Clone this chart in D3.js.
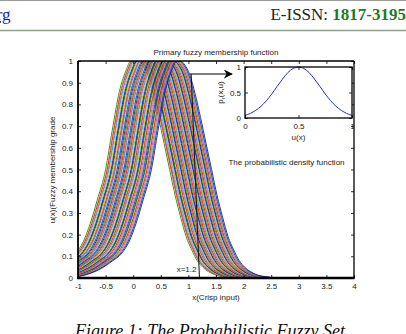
<!DOCTYPE html>
<html lang="en">
<head>
<meta charset="UTF-8">
<title>The Probabilistic Fuzzy Set</title>
<script src="https://cdn.jsdelivr.net/npm/d3@7/dist/d3.min.js"></script>
<style>
    body { margin: 0; background: #fff; }
    svg { display: block; }
    .lbl { font-family: "Liberation Sans", Arial, sans-serif; font-size: 8px; fill: #222; }
    .axis text { font-family: "Liberation Sans", Arial, sans-serif; font-size: 8px; fill: #222; }
    .axis line { stroke: #000; stroke-width: 0.8px; }
    .axis path { display: none; }
    .serif { font-family: "Liberation Serif", "Times New Roman", serif; }
</style>
</head>
<body>
<script>
    // tick values of the main plot and the inset
    var xTicks = [-1, -0.5, 0, 0.5, 1, 1.5, 2, 2.5, 3, 3.5, 4];
    var yTicks = [0, 0.1, 0.2, 0.3, 0.4, 0.5, 0.6, 0.7, 0.8, 0.9, 1];
    var insetTicks = [0, 0.5, 1];

    // shape of one membership curve
    // left flank: offset from the x where the curve crosses 0.5 on the way up
    var leftOffsets = [-1.5, -1.3, -1.1, -0.9, -0.7, -0.55, -0.4, -0.28, -0.15, 0, 0.12, 0.25, 0.36, 0.46];
    var leftGrades  = [0.002, 0.008, 0.022, 0.045, 0.08, 0.11, 0.17, 0.25, 0.36, 0.5, 0.68, 0.86, 0.95, 1.0];
    // right flank: offset from the x where the curve crosses 0.5 on the way down
    var rightOffsets = [-0.57, -0.48, -0.4, -0.3, -0.2, -0.1, 0, 0.1, 0.2, 0.3, 0.4, 0.5, 0.6, 0.8, 1.0, 1.2, 3.0];
    var rightGrades  = [1.0, 0.98, 0.94, 0.85, 0.74, 0.62, 0.5, 0.38, 0.28, 0.19, 0.13, 0.08, 0.05, 0.017, 0.005, 0.001, 0];

    // each curve: [x at grade 0.5 on the left flank, x at grade 0.5 on the right flank]
    var curveHalfPoints = [
        [-0.50, 0.66], [-0.48, 0.68], [-0.47, 0.69], [-0.45, 0.70], [-0.44, 0.72], [-0.42, 0.73], [-0.40, 0.75], [-0.39, 0.76],
        [-0.38, 0.77], [-0.36, 0.79], [-0.34, 0.80], [-0.33, 0.82], [-0.32, 0.83], [-0.30, 0.84], [-0.29, 0.86], [-0.27, 0.87],
        [-0.25, 0.89], [-0.24, 0.90], [-0.23, 0.91], [-0.21, 0.93], [-0.20, 0.94], [-0.18, 0.95], [-0.17, 0.97], [-0.15, 0.98],
        [-0.13, 1.00], [-0.12, 1.01], [-0.11, 1.02], [-0.09, 1.04], [-0.08, 1.05], [-0.06, 1.06], [-0.04, 1.08], [-0.03, 1.09],
        [-0.02, 1.11], [0.00, 1.12], [0.01, 1.13], [0.03, 1.15], [0.04, 1.16], [0.06, 1.17], [0.08, 1.19], [0.09, 1.20],
        [0.10, 1.22], [0.12, 1.23], [0.13, 1.24], [0.15, 1.26], [0.17, 1.27], [0.18, 1.28], [0.19, 1.30], [0.21, 1.31],
        [0.22, 1.33], [0.24, 1.34], [0.25, 1.35], [0.27, 1.37], [0.29, 1.38], [0.30, 1.39], [0.31, 1.40], [0.33, 1.42]
    ];
    var curveColors = ["#118a11", "#f0a010", "#e81818", "#d040c8", "#10b4d4", "#c8c418", "#1830f0", "#1c1c86"];

    // inset: probabilistic density
    var densityU = [0, 0.05, 0.1, 0.15, 0.2, 0.25, 0.3, 0.35, 0.4, 0.45, 0.5, 0.55, 0.6, 0.65, 0.7, 0.75, 0.8, 0.85, 0.9, 0.95, 1];
    var densityP = [0.05, 0.09, 0.15, 0.23, 0.34, 0.47, 0.62, 0.76, 0.89, 0.97, 1, 0.97, 0.89, 0.76, 0.62, 0.47, 0.34, 0.23, 0.15, 0.09, 0.05];

    // marker line x=1.2 and arrow to the inset
    var crispLine = [[1.05, 0.94], [1.2, 0]];
    var arrowLine = [[1.03, 0.94], [1.79, 0.94]];

    var svg = d3.select("body").append("svg")
        .attr("width", 406)
        .attr("height", 334);

    // ---- page header and caption ----
    svg.append("line").attr("x1", 0).attr("x2", 406).attr("y1", 0.5).attr("y2", 0.5)
        .attr("stroke", "#9a9a9a").attr("stroke-width", 1);
    svg.append("line").attr("x1", 0).attr("x2", 406).attr("y1", 30.5).attr("y2", 30.5)
        .attr("stroke", "#8fa088").attr("stroke-width", 1.5);
    svg.append("text").attr("class", "serif")
        .attr("x", 10.5).attr("y", 20).attr("text-anchor", "end")
        .attr("font-size", 17).attr("fill", "#1a1ab8")
        .attr("text-decoration", "underline")
        .text("rg");
    var issn = svg.append("text").attr("class", "serif")
        .attr("x", 406).attr("y", 20).attr("text-anchor", "end")
        .attr("font-size", 17).attr("fill", "#222");
    issn.append("tspan").text("E-ISSN: ");
    issn.append("tspan").attr("fill", "#1f7a1f").attr("font-weight", "bold").text("1817-3195");

    svg.append("text").attr("class", "serif")
        .attr("x", 210).attr("y", 337).attr("text-anchor", "middle")
        .attr("font-size", 18).attr("font-style", "italic").attr("fill", "#111")
        .text("Figure 1: The Probabilistic Fuzzy Set");

    // ---- main plot ----
    var x = d3.scaleLinear().domain([-1, 4]).range([78, 354]);
    var y = d3.scaleLinear().domain([0, 1]).range([278, 61]);

    svg.append("clipPath").attr("id", "plotclip")
        .append("rect")
        .attr("x", x(-1)).attr("y", y(1))
        .attr("width", x(4) - x(-1)).attr("height", y(0) - y(1));

    var line = d3.line()
        .x(function(d) { return x(d[0]); })
        .y(function(d) { return y(d[1]); })
        .curve(d3.curveMonotoneX);

    function curvePoints(hp) {
        var pts = [];
        leftOffsets.forEach(function(o, i) { pts.push([hp[0] + o, leftGrades[i]]); });
        rightOffsets.forEach(function(o, i) { pts.push([hp[1] + o, rightGrades[i]]); });
        return pts;
    }

    svg.append("g")
        .attr("clip-path", "url(#plotclip)")
        .selectAll("path")
        .data(curveHalfPoints)
        .enter()
        .append("path")
        .attr("d", function(d) { return line(curvePoints(d)); })
        .attr("fill", "none")
        .attr("stroke", function(d, i) { return curveColors[i % curveColors.length]; })
        .attr("stroke-width", 0.9);

    // x = 1.2 marker and arrow
    svg.append("path")
        .attr("d", d3.line().x(function(d) { return x(d[0]); }).y(function(d) { return y(d[1]); })(crispLine))
        .attr("stroke", "#111").attr("stroke-width", 1).attr("fill", "none");

    svg.append("defs").append("marker")
        .attr("id", "head")
        .attr("viewBox", "0 0 10 10")
        .attr("refX", 9).attr("refY", 5)
        .attr("markerWidth", 9).attr("markerHeight", 9)
        .attr("markerUnits", "userSpaceOnUse")
        .attr("orient", "auto")
        .append("path").attr("d", "M0,0 L10,5 L0,10 L3,5 Z").attr("fill", "#000");

    svg.append("line")
        .attr("x1", x(arrowLine[0][0])).attr("y1", y(arrowLine[0][1]))
        .attr("x2", x(arrowLine[1][0])).attr("y2", y(arrowLine[1][1]))
        .attr("stroke", "#000").attr("stroke-width", 1.2)
        .attr("marker-end", "url(#head)");

    svg.append("text").attr("class", "lbl")
        .attr("x", x(1.2) - 3).attr("y", 272).attr("text-anchor", "end")
        .text("x=1.2");

    // axes, ticks pointing inward like matlab
    var fmt = function(d) { return String(d); };
    svg.append("g").attr("class", "axis")
        .attr("transform", "translate(0," + y(0) + ")")
        .call(d3.axisBottom(x).tickValues(xTicks).tickSize(-3).tickPadding(5).tickFormat(fmt));
    svg.append("g").attr("class", "axis")
        .attr("transform", "translate(0," + y(1) + ")")
        .call(d3.axisTop(x).tickValues(xTicks).tickSize(-3).tickFormat(""));
    svg.append("g").attr("class", "axis")
        .attr("transform", "translate(" + x(-1) + ",0)")
        .call(d3.axisLeft(y).tickValues(yTicks).tickSize(-3).tickPadding(5).tickFormat(fmt));
    svg.append("g").attr("class", "axis")
        .attr("transform", "translate(" + x(4) + ",0)")
        .call(d3.axisRight(y).tickValues(yTicks).tickSize(-3).tickFormat(""));

    // box
    svg.append("line").attr("x1", x(-1)).attr("x2", x(4)).attr("y1", y(1)).attr("y2", y(1))
        .attr("stroke", "#000").attr("stroke-width", 1.3);
    svg.append("line").attr("x1", x(4)).attr("x2", x(4)).attr("y1", y(1)).attr("y2", y(0))
        .attr("stroke", "#000").attr("stroke-width", 1.3);
    svg.append("line").attr("x1", x(-1)).attr("x2", x(-1)).attr("y1", y(1)).attr("y2", y(0))
        .attr("stroke", "#000").attr("stroke-width", 1.8);
    svg.append("line").attr("x1", x(-1) - 1).attr("x2", x(4) + 0.6).attr("y1", y(0)).attr("y2", y(0))
        .attr("stroke", "#000").attr("stroke-width", 2.4);

    svg.append("text").attr("class", "lbl")
        .attr("x", 216).attr("y", 54.5).attr("text-anchor", "middle")
        .text("Primary fuzzy membership function");
    svg.append("text").attr("class", "lbl")
        .attr("x", 216).attr("y", 299.5).attr("text-anchor", "middle")
        .text("x(Crisp input)");
    svg.append("text").attr("class", "lbl")
        .attr("transform", "translate(55,170) rotate(-90)")
        .attr("text-anchor", "middle")
        .text("u(x)(Fuzzy membership grade");
    svg.append("text").attr("class", "lbl")
        .attr("x", 286.5).attr("y", 164.5).attr("text-anchor", "middle")
        .text("The probabilistic density function");

    // ---- inset ----
    var ix = d3.scaleLinear().domain([0, 1]).range([245, 352]);
    var iy = d3.scaleLinear().domain([0, 1]).range([118, 67]);

    svg.append("rect")
        .attr("x", ix(0)).attr("y", iy(1))
        .attr("width", ix(1) - ix(0)).attr("height", iy(0) - iy(1))
        .attr("fill", "#fff");

    svg.append("path")
        .datum(densityU.map(function(u, i) { return [u, densityP[i]]; }))
        .attr("d", d3.line()
            .x(function(d) { return ix(d[0]); })
            .y(function(d) { return iy(d[1]); })
            .curve(d3.curveMonotoneX))
        .attr("fill", "none")
        .attr("stroke", "#2a2ad0")
        .attr("stroke-width", 1);

    svg.append("g").attr("class", "axis")
        .attr("transform", "translate(0," + iy(0) + ")")
        .call(d3.axisBottom(ix).tickValues(insetTicks).tickSize(-3).tickPadding(5).tickFormat(fmt));
    svg.append("g").attr("class", "axis")
        .attr("transform", "translate(0," + iy(1) + ")")
        .call(d3.axisTop(ix).tickValues(insetTicks).tickSize(-3).tickFormat(""));
    svg.append("g").attr("class", "axis")
        .attr("transform", "translate(" + ix(0) + ",0)")
        .call(d3.axisLeft(iy).tickValues(insetTicks).tickSize(-3).tickPadding(4).tickFormat(fmt));
    svg.append("g").attr("class", "axis")
        .attr("transform", "translate(" + ix(1) + ",0)")
        .call(d3.axisRight(iy).tickValues(insetTicks).tickSize(-3).tickFormat(""));

    svg.append("rect")
        .attr("x", ix(0)).attr("y", iy(1))
        .attr("width", ix(1) - ix(0)).attr("height", iy(0) - iy(1))
        .attr("fill", "none").attr("stroke", "#000").attr("stroke-width", 1.3);

    svg.append("text").attr("class", "lbl")
        .attr("x", ix(0.5)).attr("y", 140).attr("text-anchor", "middle")
        .text("u(x)");
    var py = svg.append("text").attr("class", "lbl")
        .attr("transform", "translate(223," + iy(0.5) + ") rotate(-90)")
        .attr("text-anchor", "middle");
    py.append("tspan").text("p");
    py.append("tspan").attr("font-size", 6).attr("dy", 2).text("r");
    py.append("tspan").attr("dy", -2).text("(x,u)");
</script>
</body>
</html>
